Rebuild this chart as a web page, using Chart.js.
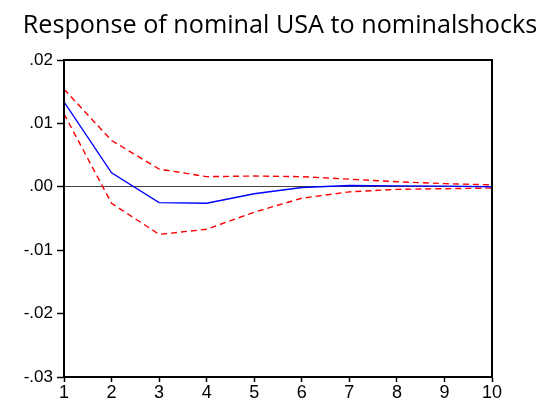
<!DOCTYPE html>
<html>
<head>
<meta charset="utf-8">
<script src="https://cdn.jsdelivr.net/npm/chart.js@4"></script>
<style>
  html, body { margin: 0; padding: 0; background: #fff; }
  #wrap { width: 549px; height: 403px; position: relative; }
</style>
</head>
<body>
<div id="wrap"><canvas id="irf"></canvas></div>
<script>
// horizon periods
var periods = [1, 2, 3, 4, 5, 6, 7, 8, 9, 10];
// impulse response (blue) and +/- 2 s.e. bands (red dashed)
var response = [0.0134, 0.0022, -0.0025, -0.0026, -0.0011, -0.0001, 0.0002, 0.00015, 0.0001, 0.0];
var upperBand = [0.0154, 0.0073, 0.0028, 0.0016, 0.0017, 0.0016, 0.0012, 0.0008, 0.0005, 0.0003];
var lowerBand = [0.0115, -0.0026, -0.0075, -0.0067, -0.0040, -0.0018, -0.0008, -0.0004, -0.0003, -0.0002];
var yTicks = [-0.03, -0.02, -0.01, 0.00, 0.01, 0.02];
var titleText = "Response of nominal USA to nominalshocks";

Chart.defaults.font.family = "Liberation Sans, Arial, sans-serif";
Chart.defaults.color = "#000";

function toPoints(vals) {
    return periods.map(function (p, i) { return { x: p, y: vals[i] }; });
}

function fmtTick(v) {
    var s = Math.abs(v).toFixed(2).replace(/^0/, "");
    return (v < -1e-9 ? "-" : "") + s;
}

var frame = {
    id: "frame",
    afterDraw: function (chart) {
        var a = chart.chartArea, ctx = chart.ctx;
        ctx.save();
        ctx.strokeStyle = "#000";
        ctx.lineWidth = 2;
        ctx.strokeRect(a.left, a.top, a.right - a.left, a.bottom - a.top);
        ctx.fillStyle = "#000";
        ctx.font = "25.2px 'Open Sans'";
        ctx.textAlign = "center";
        ctx.textBaseline = "alphabetic";
        ctx.fillText(titleText, 280, 33);
        ctx.restore();
    }
};

new Chart(document.getElementById("irf"), {
    type: "line",
    data: {
        datasets: [
            {
                label: "response",
                data: toPoints(response),
                borderColor: "#0000ff",
                borderWidth: 1.4,
                pointRadius: 0,
                tension: 0,
            },
            {
                label: "upper",
                data: toPoints(upperBand),
                borderColor: "#ff0000",
                borderWidth: 1.4,
                borderDash: [6, 4],
                pointRadius: 0,
                tension: 0,
            },
            {
                label: "lower",
                data: toPoints(lowerBand),
                borderColor: "#ff0000",
                borderWidth: 1.4,
                borderDash: [6, 4],
                pointRadius: 0,
                tension: 0,
            },
        ],
    },
    options: {
        responsive: true,
        maintainAspectRatio: false,
        animation: false,
        layout: { padding: { top: 60, right: 57, left: 0, bottom: 0 } },
        plugins: { legend: { display: false }, tooltip: { enabled: false } },
        scales: {
            x: {
                type: "linear",
                min: periods[0],
                max: periods[periods.length - 1],
                afterBuildTicks: function (axis) {
                    axis.ticks = periods.map(function (p) { return { value: p }; });
                },
                afterFit: function (axis) { axis.height = 26; },
                grid: { drawOnChartArea: false, tickLength: 5, color: "#000", tickWidth: 1.5 },
                border: { display: true, color: "#000", width: 2 },
                ticks: {
                    color: "#000",
                    font: { size: 18 },
                    padding: 0,
                    maxRotation: 0,
                },
            },
            y: {
                min: yTicks[0],
                max: yTicks[yTicks.length - 1],
                afterBuildTicks: function (axis) {
                    axis.ticks = yTicks.map(function (v) { return { value: v }; });
                },
                afterFit: function (axis) { axis.width = 64; },
                grid: {
                    drawOnChartArea: true,
                    tickLength: 7,
                    tickColor: "#000",
                    tickWidth: 1.5,
                    lineWidth: 1,
                    color: function (c) {
                        return c.tick && Math.abs(c.tick.value) < 1e-9 ? "#444" : "rgba(0,0,0,0)";
                    },
                },
                border: { display: true, color: "#000", width: 2 },
                ticks: {
                    color: "#000",
                    font: { size: 17 },
                    padding: 4,
                    callback: function (v) { return fmtTick(v); },
                },
            },
        },
    },
    plugins: [frame],
});
</script>
</body>
</html>
